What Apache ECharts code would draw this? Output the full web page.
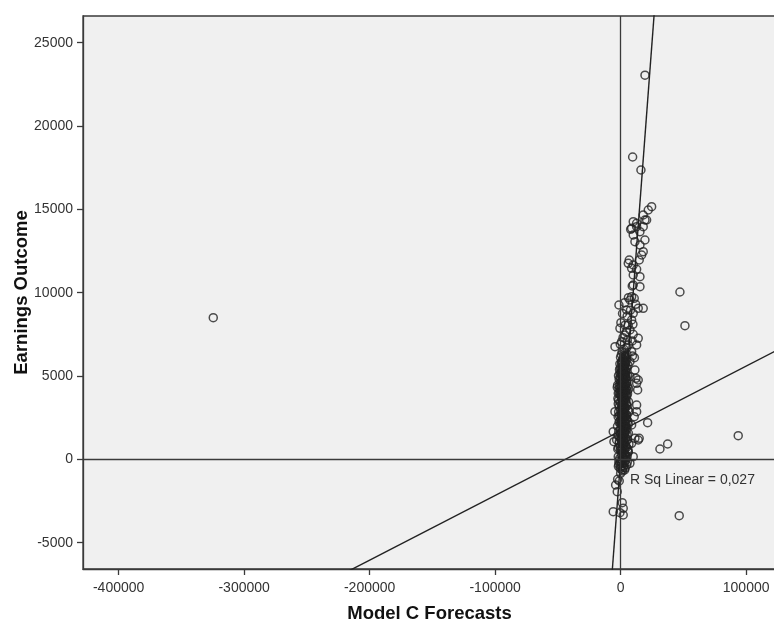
<!DOCTYPE html>
<html><head><meta charset="utf-8">
<script src="https://cdn.jsdelivr.net/npm/echarts@6/dist/echarts.min.js"></script>
<style>html,body{margin:0;padding:0;background:#fff}#c{width:774px;height:619px}</style>
</head><body><div id="c"></div>
<script>
// Axis ticks and ranges
const xTicks = [-400000, -300000, -200000, -100000, 0, 100000];
const yTicks = [-5000, 0, 5000, 10000, 15000, 20000, 25000];
const xRange = [-428400, 123800];
const yRange = [-6580, 26600];

// Linear fit reported in the chart
const fitIntercept = 1710;
const fitSlope = 0.0388;
const rSquaredText = 'R Sq Linear = 0,027';

// Points [Model C Forecast, Earnings Outcome]
const outliers = [
  [-324600, 8500], [19400, 23050], [9560, 18140], [16170, 17360], [47250, 10040],
  [51240, 8020], [93700, 1420], [37450, 920], [31310, 620], [21500, 2200], [46690, -3380]
];
const upperCluster = [
  [24700, 15160], [22000, 14960], [18000, 14660], [10040, 14260], [19360, 14360], [8760, 13860],
  [12750, 13960], [18000, 13960], [15380, 13660], [10040, 13460], [19360, 13160], [11390, 13060],
  [15380, 12860], [18000, 12460], [16730, 12260], [6850, 11960], [6060, 11760], [10040, 11660],
  [14820, 11960], [8760, 11460], [12750, 11400], [10040, 11060], [15380, 10960], [10040, 10460],
  [15380, 10360], [8760, 9760], [20700, 14360], [12750, 14160], [7970, 13800], [9240, 10400]
];
const midCluster = [
  [-1350, 9260], [7410, 9560], [10840, 9660], [18000, 9060], [4780, 8960], [10040, 8760],
  [14020, 9060], [8760, 8360], [6060, 8060], [-560, 7860], [7410, 7760], [3430, 7460],
  [14020, 7260], [-4500, 6760], [800, 7060], [6060, 6860], [12750, 6860], [8760, 6460],
  [3430, 6160], [7410, 5860], [800, 5860], [2070, 5560], [11390, 5360], [-560, 5160],
  [7410, 4960], [14020, 4760], [-2400, 4460], [12750, 4560], [13550, 4160], [-1900, 3960],
  [12750, 3260], [-4540, 2860], [12750, 2860], [10840, 2560], [8760, 2060], [-5900, 1660],
  [11390, 1260], [-3190, 1160], [8760, 960], [14020, 1160], [6060, 460], [10040, 160],
  [-560, -240], [7410, -240], [12190, 4860], [-2700, 4320], [-5340, 1060], [14800, 1260],
  [2600, 6600], [4900, 6700], [-300, 6900], [5300, 7150], [1900, 7300], [9200, 7100], [4500, 7650],
  [200, 8200], [3600, 8050], [9800, 8100], [5200, 8600], [1500, 8750], [7800, 8950], [12000, 9300],
  [3200, 9400], [6200, 9700], [9400, 6200], [11000, 6100], [4400, 5900], [10000, 7500]
];
const coreCluster = [
  [1200, -620], [2400, -380], [300, -150], [3600, -520], [-800, 40], [1800, 120], [4200, -60], [600, 310], [2900, 260], [-1500, -300],
  [5200, 180], [1100, 520], [3300, 610], [-400, 780], [2000, 860], [4700, 720], [800, 1010], [2600, 1120], [-1200, 950], [3900, 1300],
  [1500, 1420], [5600, 1180], [200, 1560], [3100, 1680], [-2100, 1450], [2200, 1840], [4400, 1950], [700, 2050], [2800, 2210], [6100, 2100],
  [-700, 2300], [1700, 2420], [3700, 2530], [400, 2660], [2500, 2780], [5000, 2640], [1300, 2910], [-1600, 2850], [3400, 3020], [900, 3160],
  [2100, 3240], [4600, 3330], [-300, 3410], [1600, 3520], [3000, 3600], [6300, 3450], [500, 3720], [2300, 3840], [4100, 3910], [-1000, 3990],
  [1400, 4080], [2700, 4190], [5300, 4120], [100, 4290], [1900, 4360], [3500, 4440], [-600, 4530], [2600, 4620], [4800, 4560], [1000, 4710],
  [2200, 4800], [3800, 4870], [-200, 4950], [1600, 5040], [3100, 5130], [5600, 5010], [700, 5220], [2400, 5310], [4300, 5280], [1300, 5440],
  [2900, 5520], [-900, 5380], [2000, 5640], [3600, 5710], [800, 5810],
  [1700, -700], [3000, -210], [-300, -560], [4900, -340], [900, -30], [2300, 80], [-1900, 160], [3800, 240], [1400, 390], [6000, 420],
  [-100, 560], [2700, 640], [4100, 800], [1900, 930], [-1000, 1090], [3400, 1010], [500, 1230], [2100, 1340], [5100, 1470], [1100, 1610],
  [3300, 1560], [-400, 1780], [2600, 1900], [4000, 2010], [1300, 2140], [-1300, 2220], [3200, 2360], [5700, 2290], [1800, 2510], [600, 2590],
  [4200, 2720], [2900, 2830], [-200, 2970], [1900, 3080], [3600, 3140], [5200, 3210], [1100, 3290], [2600, 3380], [-1900, 3330], [4000, 3490],
  [900, 3590], [3300, 3680], [1800, 3770], [-500, 3860], [4900, 3800], [2800, 3960], [1200, 4040], [3900, 4140], [-1300, 4230], [2200, 4280],
  [600, 4400], [4200, 4480], [3000, 4580], [1500, 4650], [-400, 4740], [5100, 4720], [2700, 4910], [1100, 4990], [4000, 5080], [300, 5170],
  [3300, 5260], [1800, 5350], [-300, 5480], [2700, 5590], [4900, 5500], [1000, 5680], [3100, 5870], [2200, 6010], [-100, 6120], [4500, 6050],
  [2000, -480], [1000, -250], [2800, -30], [3500, 350], [1500, 700], [2500, 1000], [900, 1330], [2900, 1480], [1800, 1710], [3300, 1960],
  [700, 2240], [2400, 2490], [1600, 2750], [3000, 2990], [2000, 3310], [1200, 3560], [2500, 3720], [1700, 4000], [3200, 4320], [900, 4560],
  [2000, 4690], [2800, 5050], [1400, 5250], [2200, 5490], [3500, 5560], [1500, 5900], [2600, 6230], [400, 650], [3900, 1650], [2000, 2060],
  [-1800, -420], [5400, -150], [-2300, 620], [6600, 900], [-2500, 1980], [6800, 2860], [-2200, 3650], [6500, 4230], [-1700, 5020], [5900, 5650],
  [300, 2380], [4600, 2450], [3100, 2660], [-900, 2620], [5500, 3940], [300, 3880], [4400, 4250], [-800, 4380], [1300, 4820], [3700, 4990],
  [-1400, -100], [4600, 90], [200, -420], [3200, -640], [5800, 600], [-1700, 690], [2200, 410], [4500, 1120], [-600, 1310], [1700, 1190],
  [6200, 1560], [-1500, 1690], [2400, 1620], [900, 1870], [5000, 1820], [-100, 2130], [3600, 2240], [1500, 2320], [-2000, 2560], [4800, 2370],
  [2200, 2600], [800, 2860], [5800, 2980], [-1100, 3160], [2700, 3100], [4300, 3620], [-1600, 3550], [2100, 3620], [600, 3990], [3600, 4060],
  [-200, 4120], [5600, 4380], [2100, 4470], [-1200, 4810], [4500, 4890], [800, 5430], [3900, 5330], [-600, 5730], [4100, 5800], [1900, 6050],
  [2800, 6380], [600, 6280], [3600, 6160], [1200, 6450], [5000, 6300]
];
const lowerCluster = [
  [-2400, -1200], [-4000, -1540], [-1100, -1300], [1270, -2600], [2070, -2940], [-5900, -3140],
  [-560, -3200], [2070, -3340], [0, -840], [-2700, -1940]
];

const ink = '#222';
const frame = '#3a3a3a';
const font = '"Liberation Sans", Arial, sans-serif';

const fitLine = [xRange[0], xRange[1]].map(x => [x, fitIntercept + fitSlope * x]);
const identityLine = [yRange[0] - 1000, yRange[1] + 1000].map(v => [v, v]);

const allPoints = [].concat(outliers, upperCluster, midCluster, coreCluster, lowerCluster);

const chart = echarts.init(document.getElementById('c'), null, {renderer: 'canvas'});
chart.setOption({
  animation: false,
  backgroundColor: '#ffffff',
  grid: {
    left: 83, right: -2, top: 16, bottom: 50,
    outerBoundsMode: 'none', containLabel: false,
    show: true, backgroundColor: '#f0f0f0', borderColor: frame, borderWidth: 1.3
  },
  xAxis: {
    type: 'value', min: xRange[0], max: xRange[1],
    axisLine: {show: true, onZero: false, lineStyle: {color: frame, width: 1.3}},
    axisTick: {show: true, length: 6, customValues: xTicks, lineStyle: {color: frame, width: 1.3}},
    axisLabel: {customValues: xTicks, fontSize: 14, color: '#333', margin: 12, fontFamily: font,
      formatter: v => String(v)},
    splitLine: {show: false},
    name: 'Model C Forecasts', nameLocation: 'middle', nameGap: 35, nameMoveOverlap: false,
    nameTextStyle: {fontWeight: 'bold', fontSize: 18.5, color: '#111', fontFamily: font}
  },
  yAxis: {
    type: 'value', min: yRange[0], max: yRange[1],
    axisLine: {show: true, onZero: false, lineStyle: {color: frame, width: 1.3}},
    axisTick: {show: true, length: 6, customValues: yTicks, lineStyle: {color: frame, width: 1.3}},
    axisLabel: {customValues: yTicks, fontSize: 14, color: '#333', margin: 10, fontFamily: font,
      formatter: v => String(v)},
    splitLine: {show: false},
    name: 'Earnings Outcome', nameLocation: 'middle', nameGap: 52, nameMoveOverlap: false,
    nameTextStyle: {fontWeight: 'bold', fontSize: 18.5, color: '#111', fontFamily: font}
  },
  series: [
    {
      type: 'line', data: identityLine, symbol: 'none', clip: true,
      lineStyle: {color: ink, width: 1.4}, z: 3,
      markLine: {
        silent: true, symbol: 'none', label: {show: false},
        lineStyle: {color: frame, width: 1.3, type: 'solid'},
        data: [{xAxis: 0}, {yAxis: 0}]
      }
    },
    {
      type: 'line', data: fitLine, symbol: 'none', clip: true,
      lineStyle: {color: ink, width: 1.4}, z: 3
    },
    {
      type: 'scatter', data: allPoints, symbol: 'circle', symbolSize: 8,
      itemStyle: {color: 'rgba(0,0,0,0)', borderColor: ink, borderWidth: 1.5}, z: 4
    }
  ],
  graphic: [{
    type: 'text', left: 630, top: 473,
    style: {text: rSquaredText, fontSize: 14, fill: '#333', fontFamily: font}
  }]
});
</script>
</body></html>
